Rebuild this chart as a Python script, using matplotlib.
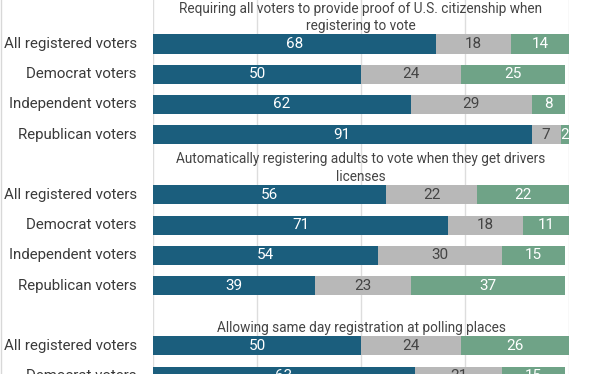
import numpy as np
import matplotlib.pyplot as plt
from matplotlib.lines import Line2D
from matplotlib.transforms import blended_transform_factory, offset_copy

plt.rcParams['font.family'] = ['Roboto', 'DejaVu Sans']

# Daten
titles = [
    "Requiring all voters to provide proof of U.S. citizenship when\nregistering to vote",
    "Automatically registering adults to vote when they get drivers\nlicenses",
    "Allowing same day registration at polling places",
]
groups = ["All registered voters", "Democrat voters", "Independent voters", "Republican voters"]

support = [[68, 50, 62, 91], [56, 71, 54, 39], [50, 63]]
unsure = [[18, 24, 29, 7], [22, 18, 30, 23], [24, 21]]
oppose = [[14, 25, 8, 2], [22, 11, 15, 37], [26, 15]]

c_blue = '#1b5e7d'
c_gray = '#b8b8b8'
c_green = '#6fa387'

fig = plt.figure(figsize=(6.12, 3.74), dpi=100)
ax = fig.add_axes([0.25, 0.0, 0.6797, 1.0])

ylab = blended_transform_factory(ax.transAxes, ax.transData)
ylab = offset_copy(ylab, fig=fig, x=-16, y=0, units='dots')

for g in range(3):
    base = g * 5
    # Titel ueber der Gruppe
    ax.text(50, base + 1 - 0.37, titles[g], ha='center', va='bottom',
            fontsize=9.8, color='#444444', linespacing=1.3)
    for r in range(len(support[g])):
        y = base + 1 + r
        s, u, o = support[g][r], unsure[g][r], oppose[g][r]
        ax.barh(y, s, height=0.63, color=c_blue, zorder=2)
        ax.barh(y, u, left=s, height=0.63, color=c_gray, zorder=2)
        ax.barh(y, o, left=s + u, height=0.63, color=c_green, zorder=2)
        ax.text(s / 2, y, str(s), ha='center', va='center', color='white', fontsize=11, zorder=3)
        ax.text(s + u / 2, y, str(u), ha='center', va='center', color='#444444', fontsize=11, zorder=3)
        ax.text(s + u + o / 2, y, str(o), ha='center', va='center', color='white', fontsize=11, zorder=3)
        ax.text(0, y, groups[r], transform=ylab, ha='right', va='center',
                fontsize=10.8, color='#3a3a3a')

ax.set_xlim(0, 100)
ax.set_ylim(11.93, -0.457)
for xv in [0, 25, 50, 75, 100]:
    ax.axvline(xv, color='#dddddd', linewidth=1, zorder=1)
ax.set_xticks([])
ax.set_yticks([])
for sp in ax.spines.values():
    sp.set_visible(False)

# linker Rand
fig.add_artist(Line2D([0.002, 0.002], [0, 1], transform=fig.transFigure,
                      color='#d8d8d8', linewidth=1))

fig.savefig('out.png', dpi=100)
